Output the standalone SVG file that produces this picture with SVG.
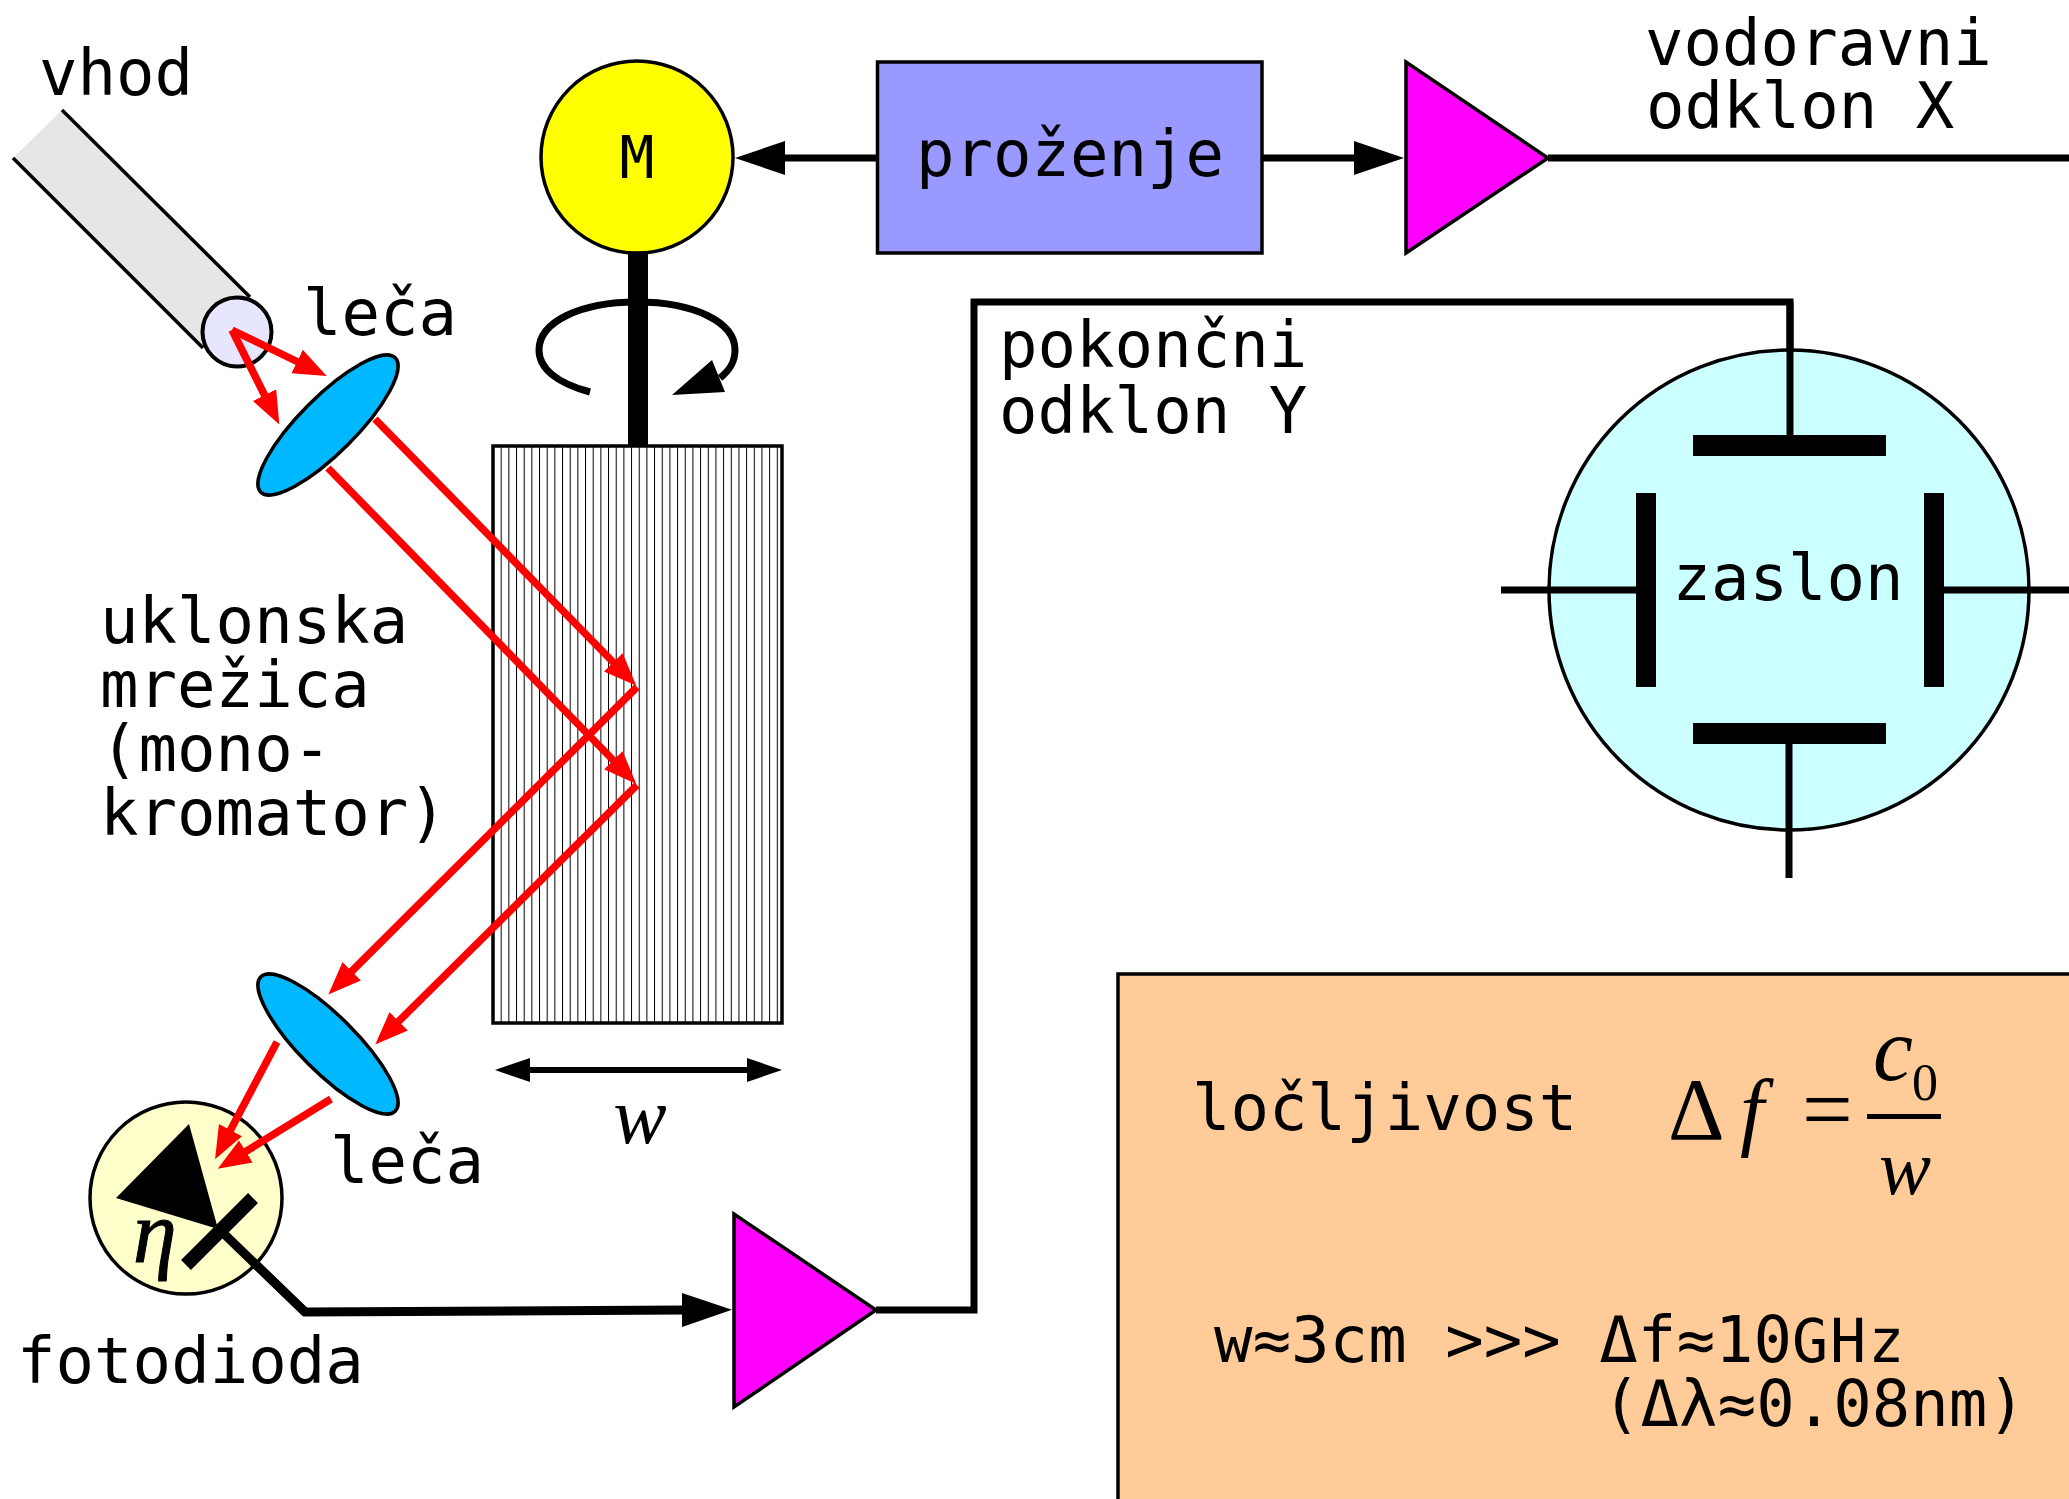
<svg xmlns="http://www.w3.org/2000/svg" width="2069" height="1499" viewBox="0 0 2069 1499">
<style>
text{font-family:"DejaVu Sans Mono",monospace;font-size:64px;fill:#000}
.m{font-family:"Liberation Serif","Times New Roman",serif;font-style:italic}
.s{stroke:#000;stroke-width:3.5}
.w{fill:none;stroke:#000;stroke-width:7}
.r{fill:none;stroke:#f00;stroke-width:7.5;marker-end:url(#ar)}
.b{fill:none;stroke:#000;stroke-width:7;marker-end:url(#ab)}
.amp{fill:#f0f;stroke:#000;stroke-width:3.5}
.lens{fill:#00b8ff;stroke:#000;stroke-width:3.5}
.plate{fill:#000}
</style>
<defs>
<marker id="ar" markerUnits="userSpaceOnUse" markerWidth="36" markerHeight="30" refX="1" refY="15" orient="auto"><path d="M0,2L33,15L0,28z" fill="#f00"/></marker>
<marker id="ab" markerUnits="userSpaceOnUse" markerWidth="52" markerHeight="36" refX="1" refY="18" orient="auto"><path d="M0,1L50,18L0,35z" fill="#000"/></marker>
<marker id="ad" markerUnits="userSpaceOnUse" markerWidth="38" markerHeight="26" refX="1" refY="13" orient="auto-start-reverse"><path d="M0,1L35,13L0,25z" fill="#000"/></marker>
<pattern id="hatch" patternUnits="userSpaceOnUse" x="493" y="0" width="7.67" height="10"><rect x="0" y="0" width="1" height="10" fill="#000"/></pattern>
</defs>
<rect width="2069" height="1499" fill="#fff"/>

<g id="box-resolution">
<rect x="1118" y="974" width="1000" height="600" fill="#ffcc99" class="s"/>
<text x="1192" y="1130">ločljivost</text>
<text x="1668" y="1139" class="m" style="font-style:normal;font-size:88px">Δ</text>
<text x="1740" y="1139" class="m" style="font-size:86px">f</text>
<text x="1802" y="1140" class="m" style="font-size:90px;font-style:normal">=</text>
<rect x="1867" y="1114" width="74" height="5"/>
<text x="1873" y="1080" class="m" style="font-size:90px">c</text>
<text x="1912" y="1100" class="m" style="font-size:52px;font-style:normal">0</text>
<text x="1879" y="1194" class="m" style="font-size:78px">w</text>
<text x="1214" y="1362">w≈3cm &gt;&gt;&gt; Δf≈10<tspan style="font-size:60px;letter-spacing:2px">GHz</tspan></text>
<text x="1602" y="1426">(Δλ≈0.08nm)</text>
</g>

<g id="connectors">
<path class="w" d="M1548,158H2069"/>
<path class="b" d="M877,158H784"/>
<path class="b" d="M1262,158H1355"/>
<path class="w" d="M876,1310H974V302H1790V436"/>
<path d="M218,1228L305,1312L683,1310" fill="none" stroke="#000" stroke-width="9" marker-end="url(#ab)"/>
<path d="M529,1070H748" fill="none" stroke="#000" stroke-width="6" marker-start="url(#ad)" marker-end="url(#ad)"/>
</g>

<g id="screen">
<circle cx="1789" cy="590" r="240" fill="#ccffff" class="s"/>
<path class="w" d="M1790,302V436M1501,590H1636M1944,590H2069M1789,744V878"/>
<rect class="plate" x="1693" y="435" width="193" height="21"/>
<rect class="plate" x="1693" y="723" width="193" height="21"/>
<rect class="plate" x="1636" y="493" width="20" height="194"/>
<rect class="plate" x="1924" y="493" width="20" height="194"/>
<text x="1788" y="600" text-anchor="middle">zaslon</text>
</g>

<g id="input">
<polygon points="62,110 250,297 203,348 13,158" fill="#e6e6e6"/>
<path d="M62,110L250,297M13,158L203,348" stroke="#000" stroke-width="3.5" fill="none"/>
<circle cx="237" cy="332" r="34.5" fill="#e6e6ff" stroke="#000" stroke-width="4"/>
<text x="39" y="95">vhod</text>
</g>

<g id="lens-top">
<ellipse cx="328" cy="425" rx="95" ry="28" transform="rotate(-45 328 425)" class="lens"/>
<text x="303" y="335">leča</text>
</g>
<g id="lens-bottom">
<ellipse cx="328" cy="1044" rx="95" ry="28" transform="rotate(45 328 1044)" class="lens"/>
<text x="330" y="1183">leča</text>
</g>

<g id="grating">
<rect x="493" y="446" width="289" height="577" fill="url(#hatch)"/>
<rect x="493" y="446" width="289" height="577" fill="none" stroke="#000" stroke-width="3.5"/>
<text x="100" y="643">uklonska</text>
<text x="100" y="707">mrežica</text>
<text x="100" y="771">(mono-</text>
<text x="100" y="835">kromator)</text>
<text x="640" y="1143" class="m" style="font-size:80px" text-anchor="middle">w</text>
</g>

<g id="motor">
<path d="M590,392C556,383 539,368 539,350C539,322 580,302 637,302C694,302 735,322 735,350C735,362 730,370 720,378" fill="none" stroke="#000" stroke-width="7"/>
<polygon points="672,395 712,360 725,392"/>
<rect x="628" y="250" width="20" height="196"/>
<circle cx="637" cy="157" r="96" fill="#ff0" class="s"/>
<text x="637" y="178" text-anchor="middle" style="font-size:58px">M</text>
</g>

<g id="sweep">
<rect x="877.5" y="62" width="384.5" height="191" fill="#9999ff" class="s"/>
<text x="1070" y="176" text-anchor="middle">proženje</text>
</g>

<g id="amp-x">
<polygon class="amp" points="1406,62 1406,253 1548,158"/>
<text x="1645" y="65">vodoravni</text>
<text x="1646" y="128">odklon X</text>
</g>

<g id="amp-y">
<polygon class="amp" points="734,1214 734,1407 876,1310"/>
<text x="999" y="367">pokončni</text>
<text x="999" y="433">odklon Y</text>
</g>

<g id="photodiode">
<circle cx="186" cy="1198" r="96" fill="#ffffcc" class="s"/>
<polygon points="189,1124 116,1198 218,1229"/>
<path d="M253,1198L186,1265" stroke="#000" stroke-width="14"/>
<path d="M218,1228L305,1312" stroke="#000" stroke-width="9"/>
<text x="133" y="1262" class="m" style="font-size:88px;stroke:#000;stroke-width:1">η</text>
<text x="17" y="1383">fotodioda</text>
</g>

<g id="beams">
<path class="r" d="M232,330L298,362"/>
<path class="r" d="M232,330L265,396"/>
<path class="r" d="M375,419L614,663"/>
<path class="r" d="M328,468L614,761"/>
<path class="r" d="M637,687L351,972"/>
<path class="r" d="M637,785L398,1022"/>
<path class="r" d="M277,1042L230,1131"/>
<path class="r" d="M331,1099L245,1152"/>
</g>
</svg>
